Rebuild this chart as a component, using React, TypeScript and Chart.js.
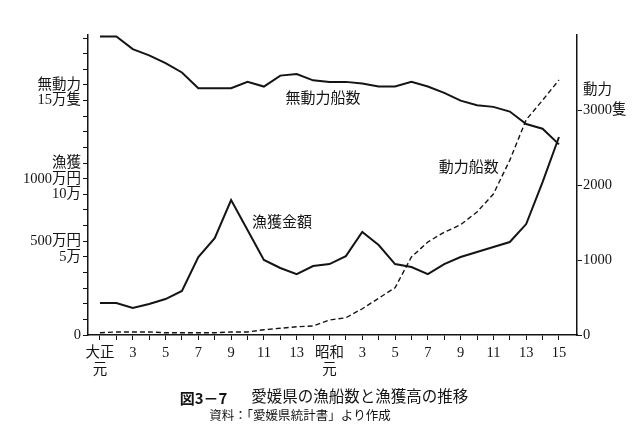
import { useEffect, useRef } from 'react';
import { Chart, registerables } from 'chart.js';

Chart.register(...registerables);

// 年次（大正元年〜昭和15年）
const years = [
  '大正元', '2', '3', '4', '5', '6', '7', '8', '9', '10', '11', '12', '13', '14',
  '昭和元', '2', '3', '4', '5', '6', '7', '8', '9', '10', '11', '12', '13', '14', '15',
];

// 無動力船数（万隻）
const unpoweredBoats = [
  19.1, 19.1, 18.3, 17.9, 17.4, 16.8, 15.8, 15.8, 15.8, 16.2, 15.9, 16.6, 16.7, 16.3,
  16.2, 16.2, 16.1, 15.9, 15.9, 16.2, 15.9, 15.5, 15.0, 14.7, 14.6, 14.3, 13.5, 13.2, 12.2,
];

// 漁獲金額（万円）
const catchValue = [
  205, 205, 173, 198, 230, 282, 499, 620, 864, 672, 480, 429, 390, 441,
  454, 505, 659, 576, 454, 435, 390, 454, 499, 531, 563, 595, 710, 979, 1267,
];

// 動力船数（隻）
const poweredBoats = [
  30, 40, 40, 40, 30, 30, 30, 30, 40, 40, 70, 90, 110, 120,
  200, 230, 350, 490, 630, 1040, 1240, 1370, 1470, 1640, 1880, 2330, 2870, 3130, 3400,
];

// 左軸の目盛ラベル（1目盛 = 1万隻 / 100万円）
const leftTickLabels: Record<number, string> = {
  16: '無動力', 15: '15万隻', 11: '漁獲', 10: '1000万円', 9: '10万', 6: '500万円', 5: '5万', 0: '0',
};
const rightTickValues = [0, 1000, 2000, 3000];
const rightTickLabels: Record<number, string> = { 0: '0', 1000: '1000', 2000: '2000', 3000: '3000隻' };
const rightUnitLabel = '動力';
const rightUnitValue = 3270;

const seriesNames = ['無動力船数', '漁獲金額', '動力船数'];
const figNo = '図3－7';
const figTitle = '愛媛県の漁船数と漁獲高の推移';
const figSource = '資料：「愛媛県統計書」より作成';

const INK = '#141414';
const FONT = "'Liberation Serif', 'Noto Sans CJK JP', serif";

const labelAnchors = [
  { text: seriesNames[0], x: 13.6, y: 15.1, axis: 'y' },
  { text: seriesNames[1], x: 11.1, y: 7.17, axis: 'y' },
  { text: seriesNames[2], x: 22.5, y: 10.7, axis: 'y' },
];

const annotate = {
  id: 'annotate',
  afterDraw(chart: any) {
    const { ctx, scales } = chart;
    const x = scales.x;
    ctx.save();
    ctx.fillStyle = INK;
    ctx.textBaseline = 'middle';
    ctx.textAlign = 'center';
    ctx.font = `15px ${FONT}`;
    for (const a of labelAnchors) {
      ctx.fillText(a.text, x.getPixelForValue(a.x), scales[a.axis].getPixelForValue(a.y));
    }
    // 図タイトル
    const bottom = chart.chartArea.bottom;
    const cx = 324;
    ctx.font = `bold 15px 'Noto Sans CJK JP', sans-serif`;
    const w1 = ctx.measureText(figNo).width;
    ctx.font = `15.5px ${FONT}`;
    const w2 = ctx.measureText(figTitle).width;
    const gap = 24;
    const start = cx - (w1 + gap + w2) / 2;
    ctx.textAlign = 'left';
    ctx.font = `bold 15px 'Noto Sans CJK JP', sans-serif`;
    ctx.fillText(figNo, start, bottom + 63);
    ctx.font = `15.5px ${FONT}`;
    ctx.fillText(figTitle, start + w1 + gap, bottom + 63);
    ctx.textAlign = 'center';
    ctx.font = `12.5px 'Noto Sans CJK JP', sans-serif`;
    ctx.fillText(figSource, 300, bottom + 80);
    ctx.restore();
  },
};

export default function App() {
  const ref = useRef<HTMLCanvasElement | null>(null);

  useEffect(() => {
    if (!ref.current) return;
    const toXY = (arr: number[], scale = 1) => arr.map((v, i) => ({ x: i, y: v * scale }));
    const chart = new Chart(ref.current, {
      type: 'line',
      data: {
        datasets: [
          {
            label: seriesNames[0],
            data: toXY(unpoweredBoats),
            borderColor: INK,
            borderWidth: 2,
            pointRadius: 0,
            tension: 0,
            yAxisID: 'y',
          },
          {
            label: seriesNames[1],
            data: toXY(catchValue, 0.01),
            borderColor: INK,
            borderWidth: 2,
            pointRadius: 0,
            tension: 0,
            yAxisID: 'y',
          },
          {
            label: seriesNames[2],
            data: toXY(poweredBoats),
            borderColor: INK,
            borderWidth: 1.4,
            borderDash: [5, 3],
            pointRadius: 0,
            tension: 0,
            yAxisID: 'y2',
          },
        ],
      },
      options: {
        animation: false,
        responsive: false,
        devicePixelRatio: 1,
        layout: { padding: { top: 35, left: 0, right: 0, bottom: 54 } },
        plugins: {
          legend: { display: false },
          tooltip: { enabled: false },
          title: { display: false },
        },
        scales: {
          x: {
            type: 'linear',
            min: -0.73,
            max: 29.1,
            afterBuildTicks: (s: any) => {
              s.ticks = years.map((_, i) => ({ value: i }));
            },
            afterFit: (s: any) => {
              s.height = 48;
            },
            border: { display: true, color: INK, width: 1.5 },
            grid: { drawOnChartArea: false, drawTicks: true, tickLength: 5, tickColor: INK, tickWidth: 1 },
            ticks: {
              autoSkip: false,
              maxRotation: 0,
              padding: 4,
              color: INK,
              font: { family: FONT, size: 14.5 },
              callback: (v: any) => {
                const i = Math.round(Number(v));
                if (i % 2 !== 0) return '';
                const t = years[i];
                if (t && t.endsWith('元')) return [t.slice(0, 2), '元'];
                return t ?? '';
              },
            },
          },
          y: {
            type: 'linear',
            position: 'left',
            min: 0,
            max: 19.2,
            afterBuildTicks: (s: any) => {
              s.ticks = Array.from({ length: 20 }, (_, i) => ({ value: i }));
            },
            afterFit: (s: any) => {
              s.width = 88;
            },
            border: { display: true, color: INK, width: 1.5 },
            grid: { drawOnChartArea: false, drawTicks: true, tickLength: 5, tickColor: INK, tickWidth: 1 },
            ticks: {
              autoSkip: false,
              padding: 2,
              color: INK,
              font: { family: FONT, size: 14.5 },
              callback: (v: any) => leftTickLabels[Math.round(Number(v))] ?? '',
            },
          },
          y2: {
            type: 'linear',
            position: 'right',
            min: 0,
            max: 4000,
            afterBuildTicks: (s: any) => {
              s.ticks = [...rightTickValues, rightUnitValue].map((v) => ({ value: v }));
            },
            afterFit: (s: any) => {
              s.width = 63;
            },
            border: { display: true, color: INK, width: 1.5 },
            grid: {
              drawOnChartArea: false,
              drawTicks: true,
              tickLength: 5,
              tickWidth: 1,
              tickColor: (c: any) => (c.tick && c.tick.value === rightUnitValue ? 'rgba(0,0,0,0)' : INK),
            },
            ticks: {
              autoSkip: false,
              padding: 1,
              color: INK,
              font: { family: FONT, size: 14.5 },
              callback: (v: any) => {
                const n = Number(v);
                if (n === rightUnitValue) return rightUnitLabel;
                return rightTickLabels[n] ?? '';
              },
            },
          },
        },
      },
      plugins: [annotate],
    } as any);
    return () => chart.destroy();
  }, []);

  return (
    <div style={{ position: 'fixed', left: 0, top: 0, width: 640, height: 437, background: '#fff' }}>
      <canvas ref={ref} width={640} height={437} style={{ display: 'block' }} />
    </div>
  );
}
